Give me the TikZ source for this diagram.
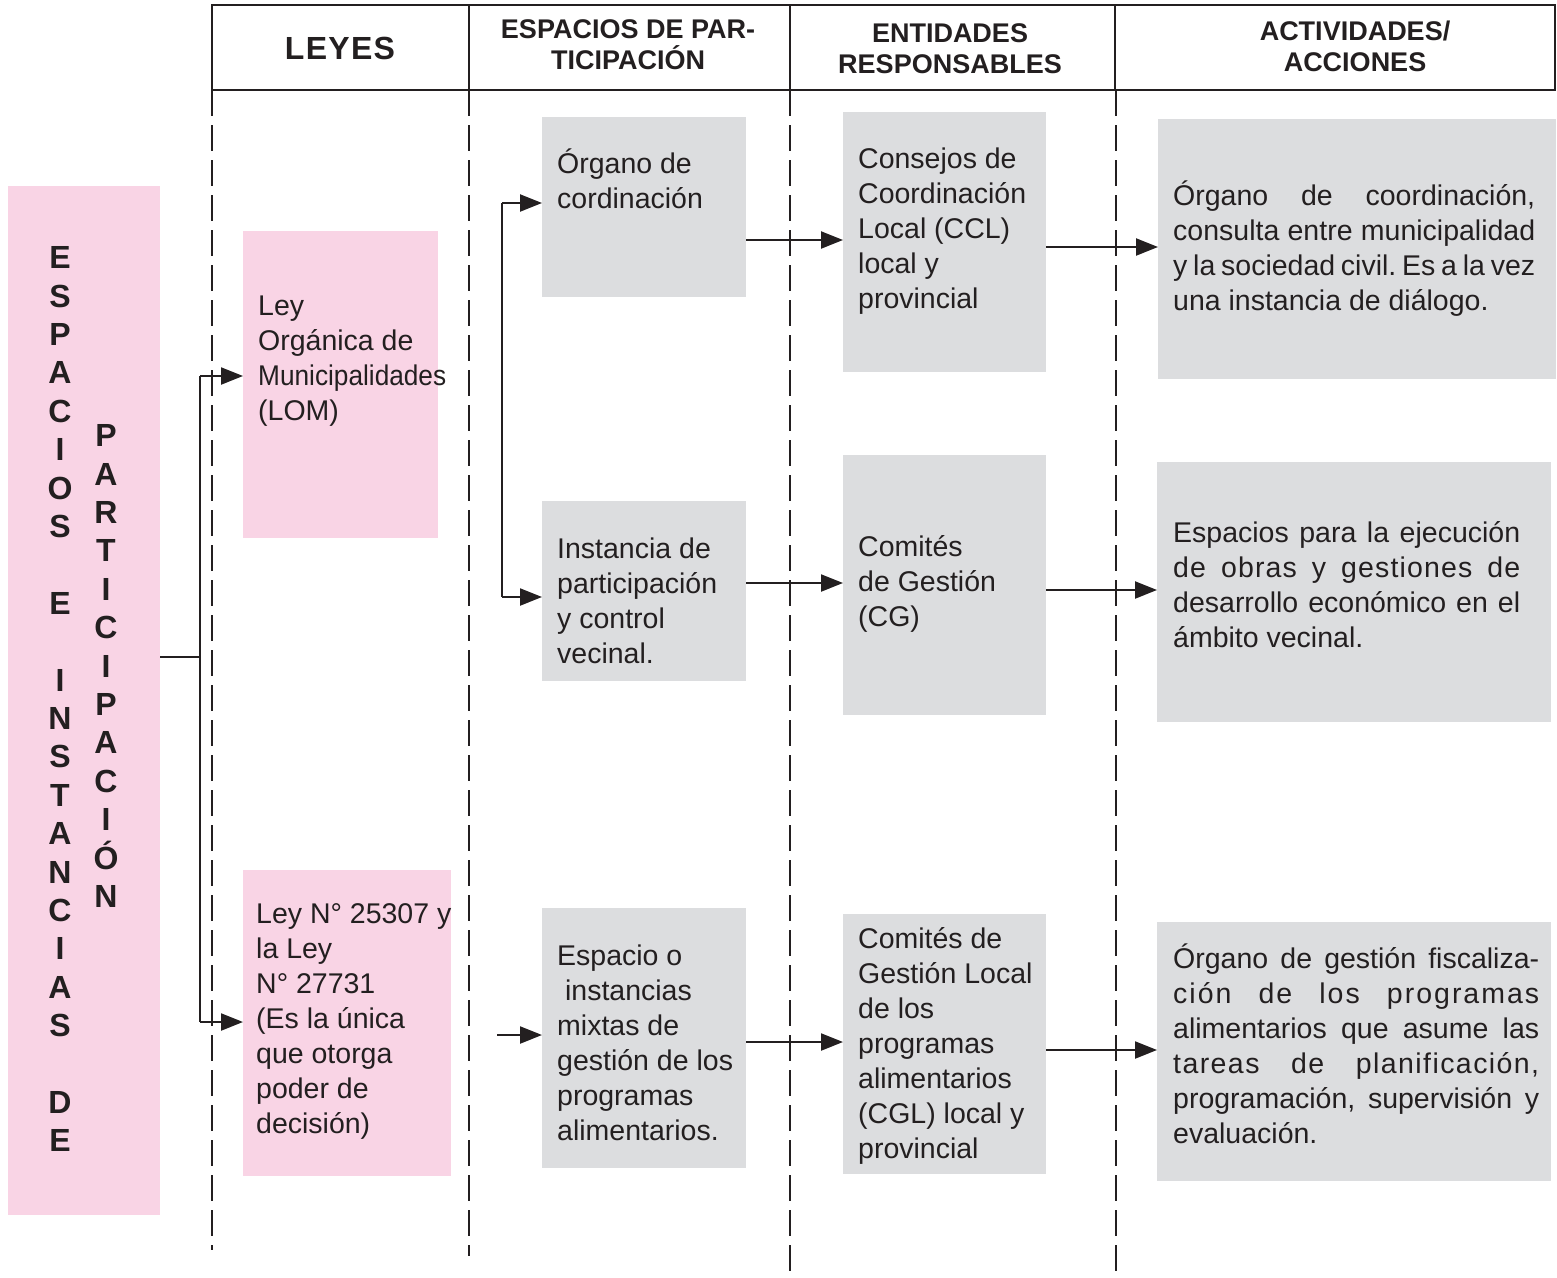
\documentclass[tikz,border=0pt]{standalone}
\usepackage{fontspec}
\usepackage{graphicx}
\setmainfont{Liberation Sans}
\usetikzlibrary{arrows.meta}

\definecolor{pinkfill}{RGB}{249,212,229}
\definecolor{grayfill}{RGB}{220,221,223}
\definecolor{ink}{RGB}{35,31,32}

\newcommand\bodysize{\fontsize{28.5}{35}\selectfont}
\newcommand\fstrut{\rule{0pt}{27pt}}
\newcommand\jline[2]{\makebox[#1][s]{#2}}
\frenchspacing

\begin{document}
\begin{tikzpicture}[x=1pt,y=-1pt,
  pinkbox/.style={fill=pinkfill,draw=none,inner sep=0pt,outer sep=0pt,anchor=north west},
  graybox/.style={fill=grayfill,draw=none,inner sep=0pt,outer sep=0pt,anchor=north west},
  boxtext/.style={anchor=north west,inner sep=0pt,align=left,font=\bodysize,text=ink},
  head/.style={font=\fontsize{27}{31}\selectfont\bfseries,text=ink,align=center,inner sep=0pt},
  vlet/.style={font=\fontsize{32}{38.4}\selectfont\bfseries,text=ink,align=center,inner sep=0pt,anchor=north},
  conn/.style={draw=ink,line width=2.2pt},
  arr/.style={conn,-{Triangle[length=22pt,width=17pt]}},
  guide/.style={draw=ink,line width=2.2pt,dash pattern=on 26pt off 9pt}]

\useasboundingbox (0,0) rectangle (1557,1277);

% column guides
\draw[guide] (212,90) -- (212,1250);
\draw[guide] (469,90) -- (469,1256);
\draw[guide] (790,90) -- (790,1277);
\draw[guide] (1116,90) -- (1116,1277);

% header table
\draw[conn] (212,5) rectangle (1555,90);
\draw[conn] (469,5) -- (469,90);
\draw[conn] (790,5) -- (790,90);
\draw[conn] (1115,5) -- (1115,90);
\node[head,font=\fontsize{32}{38}\selectfont\bfseries] (hleyes) at (340,48) {\addfontfeature{LetterSpace=4}LEYES};
\node[head] (hesp) at (628,45) {ESPACIOS DE PAR-\\TICIPACIÓN};
\node[head] (hent) at (950,49) {ENTIDADES\\RESPONSABLES};
\node[head] (hact) at (1355,46) {ACTIVIDADES/\\ACCIONES};

% title band
\node[pinkbox,minimum width=152pt,minimum height=1029pt] (esp) at (8,186) {};
\node[vlet] (vt1) at (60,238.5) {\rule{0pt}{30pt}E\\S\\P\\A\\C\\I\\O\\S\\\mbox{}\\E\\\mbox{}\\I\\N\\S\\T\\A\\N\\C\\I\\A\\S\\\mbox{}\\D\\E};
\node[vlet] (vt2) at (106,416.5) {\rule{0pt}{30pt}P\\A\\R\\T\\I\\C\\I\\P\\A\\C\\I\\Ó\\N};

% laws
\node[pinkbox,minimum width=195pt,minimum height=307pt] (lom) at (243,231) {};
\node[boxtext] (lomt) at (258,288) {\fstrut Ley\\Orgánica de\\\scalebox{0.92}[1]{Municipalidades}\\(LOM)};
\node[pinkbox,minimum width=208pt,minimum height=306pt] (leyn) at (243,870) {};
\node[boxtext] (leynt) at (256,896) {\fstrut Ley N° 25307 y\\la Ley\\N° 27731\\(Es la única\\que otorga\\poder de\\decisión)};

% participation spaces
\node[graybox,minimum width=204pt,minimum height=180pt] (org) at (542,117) {};
\node[boxtext] (orgt) at (557,146) {\fstrut Órgano de\\cordinación};
\node[graybox,minimum width=204pt,minimum height=180pt] (inst) at (542,501) {};
\node[boxtext] (instt) at (557,531) {\fstrut Instancia de\\participación\\y control\\vecinal.};
\node[graybox,minimum width=204pt,minimum height=260pt] (mix) at (542,908) {};
\node[boxtext] (mixt) at (557,938) {\fstrut Espacio o\\\ instancias\\mixtas de\\gestión de los\\programas\\alimentarios.};

% responsible entities
\node[graybox,minimum width=203pt,minimum height=260pt] (ccl) at (843,112) {};
\node[boxtext] (cclt) at (858,141) {\fstrut Consejos de\\Coordinación\\Local (CCL)\\local y\\provincial};
\node[graybox,minimum width=203pt,minimum height=260pt] (cg) at (843,455) {};
\node[boxtext] (cgt) at (858,529) {\fstrut Comités\\de Gestión\\(CG)};
\node[graybox,minimum width=203pt,minimum height=260pt] (cgl) at (843,914) {};
\node[boxtext] (cglt) at (858,921) {\fstrut Comités de\\Gestión Local\\de los\\programas\\alimentarios\\(CGL) local y\\provincial};

% activities
\node[graybox,minimum width=398pt,minimum height=260pt] (act1) at (1158,119) {};
\node[boxtext] (act1t) at (1173,178) {\fstrut\jline{362pt}{Órgano de coordinación,}\\\jline{362pt}{consulta entre municipalidad}\\\jline{362pt}{y la sociedad civil. Es a la vez}\\una instancia de diálogo.};
\node[graybox,minimum width=394pt,minimum height=260pt] (act2) at (1157,462) {};
\node[boxtext] (act2t) at (1173,515) {\fstrut\jline{347pt}{Espacios para la ejecución}\\\jline{347pt}{\addfontfeature{LetterSpace=4}de obras y gestiones de}\\\jline{347pt}{desarrollo económico en el}\\ámbito vecinal.};
\node[graybox,minimum width=394pt,minimum height=259pt] (act3) at (1157,922) {};
\node[boxtext] (act3t) at (1173,941) {\fstrut\jline{366pt}{Órgano de gestión fiscaliza-}\\\jline{366pt}{\addfontfeature{LetterSpace=7}ción de los programas}\\\jline{366pt}{alimentarios que asume las}\\\jline{366pt}{\addfontfeature{LetterSpace=5}tareas de planificación,}\\\jline{366pt}{programación, supervisión y}\\evaluación.};

% connector levels
\coordinate (jl) at (200,657);
\coordinate (jt) at (200,376);
\coordinate (jb) at (200,1022);
\coordinate (kt) at (502,203);
\coordinate (kb) at (502,597);
\coordinate (km) at (497,1035);
\coordinate (r1) at (0,240);
\coordinate (r2) at (0,583);
\coordinate (r3) at (0,1042);
\coordinate (s1) at (0,247);
\coordinate (s2) at (0,590);
\coordinate (s3) at (0,1050);

% title band to laws
\draw[conn] (esp.east |- jl) -- (jl);
\draw[conn] (jt) -- (jb);
\draw[arr] (jt) -- (jt -| lom.west);
\draw[arr] (jb) -- (jb -| leyn.west);

% branch into the participation spaces
\draw[conn] (kt) -- (kb);
\draw[arr] (kt) -- (kt -| org.west);
\draw[arr] (kb) -- (kb -| inst.west);
\draw[arr] (km) -- (km -| mix.west);

% spaces to entities
\draw[arr] (org.east |- r1) -- (ccl.west |- r1);
\draw[arr] (inst.east |- r2) -- (cg.west |- r2);
\draw[arr] (mix.east |- r3) -- (cgl.west |- r3);

% entities to activities
\draw[arr] (ccl.east |- s1) -- (act1.west |- s1);
\draw[arr] (cg.east |- s2) -- (act2.west |- s2);
\draw[arr] (cgl.east |- s3) -- (act3.west |- s3);

\end{tikzpicture}
\end{document}
